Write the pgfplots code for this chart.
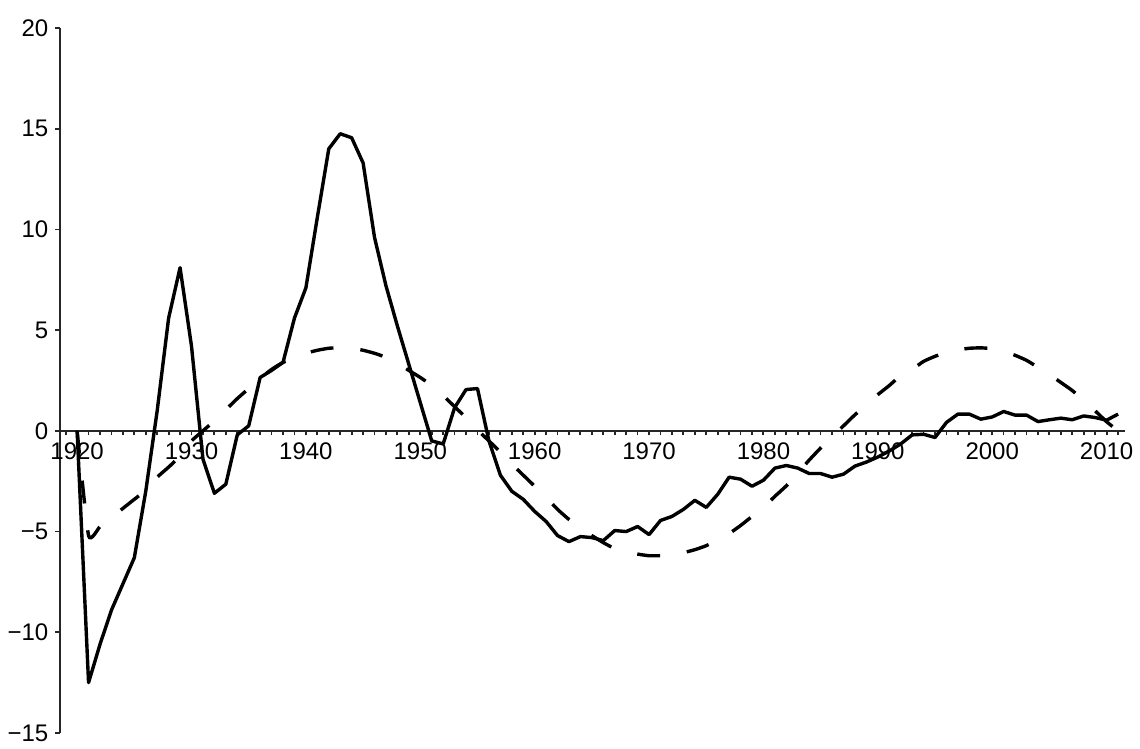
\documentclass[border=0pt]{standalone}
\usepackage{pgfplots}
\pgfplotsset{compat=1.18}
\usepackage{fontspec}
\setmainfont{Liberation Sans}

\begin{document}
\begin{tikzpicture}
\begin{axis}[
  scale only axis, width=532.5pt, height=352.5pt,
  xmin=1918.5, xmax=2011.6, ymin=-15, ymax=20,
  axis x line=middle, axis y line=left,
  axis line style={-, line width=1.2pt, black!85},
  every inner x axis line/.append style={-},
  every outer y axis line/.append style={-},
  hide obscured x ticks=false, hide obscured y ticks=false,
  xtick={1920,1930,1940,1950,1960,1970,1980,1990,2000,2010},
  xticklabels={1920,1930,1940,1950,1960,1970,1980,1990,2000,2010},
  minor xtick={1919,...,2011},
  ytick={-15,-10,-5,0,5,10,15,20},
  yticklabels={−15,−10,−5,0,5,10,15,20},
  tick align=outside, major tick length=2.3pt, minor tick length=2.3pt,
  tick style={line width=0.9pt, black!85},
  ticklabel style={font=\fontsize{12}{14}\selectfont},
  clip=false,
]
\addplot[black, line width=1.7pt, line join=round] coordinates {
(1920,0) (1921,-12.5) (1922,-10.6) (1923,-8.9) (1924,-7.6) (1925,-6.3)
(1926,-3.0) (1927,1.0) (1928,5.6) (1929,8.1) (1930,4.2) (1931,-1.4)
(1932,-3.1) (1933,-2.65) (1934,-0.2) (1935,0.25) (1936,2.65) (1937,3.0)
(1938,3.4) (1939,5.6) (1940,7.1) (1941,10.6) (1942,14.0) (1943,14.75)
(1944,14.55) (1945,13.3) (1946,9.6) (1947,7.2) (1948,5.2) (1949,3.3)
(1950,1.4) (1951,-0.5) (1952,-0.65) (1953,1.15) (1954,2.05) (1955,2.1)
(1956,-0.5) (1957,-2.2) (1958,-3.0) (1959,-3.4) (1960,-4.0) (1961,-4.5)
(1962,-5.2) (1963,-5.5) (1964,-5.25) (1965,-5.3) (1966,-5.45) (1967,-4.95)
(1968,-5.0) (1969,-4.75) (1970,-5.15) (1971,-4.45) (1972,-4.25) (1973,-3.9)
(1974,-3.45) (1975,-3.8) (1976,-3.15) (1977,-2.3) (1978,-2.4) (1979,-2.75)
(1980,-2.45) (1981,-1.85) (1982,-1.72) (1983,-1.85) (1984,-2.12) (1985,-2.12)
(1986,-2.3) (1987,-2.15) (1988,-1.75) (1989,-1.55) (1990,-1.3) (1991,-1.0)
(1992,-0.65) (1993,-0.2) (1994,-0.17) (1995,-0.33) (1996,0.42) (1997,0.83)
(1998,0.83) (1999,0.58) (2000,0.69) (2001,0.96) (2002,0.78) (2003,0.78)
(2004,0.46) (2005,0.55) (2006,0.63) (2007,0.55) (2008,0.74) (2009,0.66)
(2010,0.53) (2011,0.83)
};
\addplot[black, line width=1.7pt, dash pattern=on 11.5pt off 13.5pt, smooth, tension=0.3] coordinates {
(1920,0) (1921,-5.2) (1922,-4.75) (1923,-4.3) (1924,-3.85) (1925,-3.4)
(1926,-2.95) (1927,-2.3) (1928,-1.8) (1929,-1.25) (1930,-0.5) (1931,0.0)
(1932,0.5) (1933,1.05) (1934,1.6) (1935,2.1) (1936,2.6) (1937,3.05)
(1938,3.4) (1939,3.62) (1940,3.85) (1941,4.0) (1942,4.1) (1943,4.13)
(1944,4.1) (1945,4.0) (1946,3.85) (1947,3.65) (1948,3.35) (1949,3.0)
(1950,2.65) (1951,2.25) (1952,1.75) (1953,1.2) (1954,0.65) (1955,0.05)
(1956,-0.5) (1957,-1.05) (1958,-1.65) (1959,-2.2) (1960,-2.75) (1961,-3.3)
(1962,-3.9) (1963,-4.4) (1964,-4.8) (1965,-5.2) (1966,-5.55) (1967,-5.85)
(1968,-6.0) (1969,-6.12) (1970,-6.2) (1971,-6.2) (1972,-6.17) (1973,-6.05)
(1974,-5.9) (1975,-5.7) (1976,-5.4) (1977,-5.1) (1978,-4.7) (1979,-4.25)
(1980,-3.8) (1981,-3.25) (1982,-2.73) (1983,-2.1) (1984,-1.45) (1985,-0.85)
(1986,-0.3) (1987,0.25) (1988,0.8) (1989,1.3) (1990,1.8) (1991,2.25)
(1992,2.75) (1993,3.05) (1994,3.45) (1995,3.7) (1996,3.9) (1997,4.02)
(1998,4.1) (1999,4.12) (2000,4.08) (2001,3.95) (2002,3.75) (2003,3.5)
(2004,3.15) (2005,2.8) (2006,2.4) (2007,2.0) (2008,1.5) (2009,0.99)
(2010,0.45) (2011,0.0)
};
\path (rel axis cs:-0.0563,-0.01702) rectangle (rel axis cs:1.01408,1.03972);
\end{axis}
\end{tikzpicture}
\end{document}
